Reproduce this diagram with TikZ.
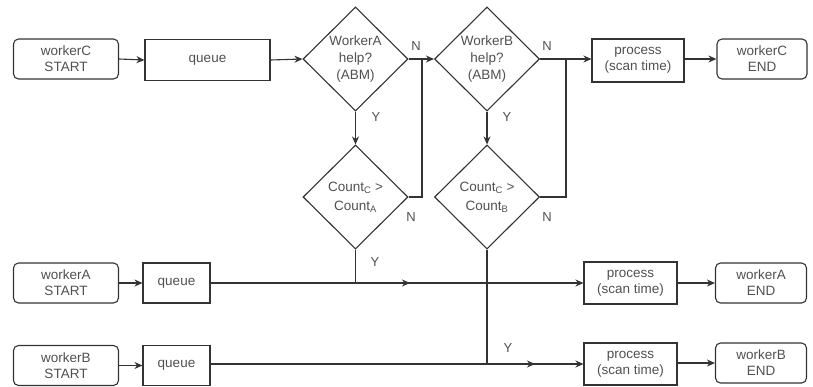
\documentclass[tikz,border=0pt]{standalone}
\usepackage{fontspec}
\setmainfont{Liberation Sans}
\usetikzlibrary{shapes.geometric,arrows.meta}
\definecolor{ln}{HTML}{333333}
\definecolor{tx}{HTML}{505050}
\tikzset{
  every node/.style={font=\fontsize{13.5}{16}\selectfont, text=tx, align=center},
  rbox/.style={draw=ln, line width=1.1pt, rounded corners=5pt, minimum width=105pt, minimum height=40pt, inner sep=1pt},
  sbox/.style={draw=ln, line width=1.1pt, minimum height=41pt, inner sep=1pt},
  dec/.style={draw=ln, line width=1.1pt, diamond, aspect=1, minimum width=105pt, minimum height=104pt, inner sep=0pt},
  conn/.style={draw=ln, line width=1.1pt},
  arr/.style={conn, -{Stealth[length=8pt,width=7pt]}},
  lbl/.style={font=\fontsize{13}{14}\selectfont, text=tx}
}
\begin{document}
\begin{tikzpicture}[x=1pt,y=-1pt]
\useasboundingbox (0,0) rectangle (813,386);
% top row
\node[rbox] (wCs) at (66,59) {workerC\\START};
\node[sbox, minimum width=125pt] (q1) at (207.5,60) {queue};
\node[dec] (dA) at (355.5,59) {WorkerA\\[1pt]help?\\[1pt](ABM)};
\node[dec] (dB) at (487,59) {WorkerB\\[1pt]help?\\[1pt](ABM)};
\node[sbox, minimum width=92pt, minimum height=43pt] (pC) at (638,60.5) {process\\(scan time)};
\node[rbox, minimum width=90pt] (wCe) at (762,59) {workerC\\END};
% count diamonds
\node[dec] (cA) at (355.5,197) {Count$_{\mathrm{C}}$ >\\[3pt]Count$_{\mathrm{A}}$};
\node[dec] (cB) at (487,197) {Count$_{\mathrm{C}}$ >\\[3pt]Count$_{\mathrm{B}}$};
% worker A row
\node[rbox] (wAs) at (66,283) {workerA\\START};
\node[sbox, minimum width=67pt, minimum height=40pt] (qA) at (176.5,283) {queue};
\node[sbox, minimum width=93pt, minimum height=42pt] (pA) at (630.5,283) {process\\(scan time)};
\node[rbox, minimum width=91pt] (wAe) at (761,283) {workerA\\END};
% worker B row
\node[rbox] (wBs) at (66,365.5) {workerB\\START};
\node[sbox, minimum width=67pt, minimum height=40pt] (qB) at (176.5,365.5) {queue};
\node[sbox, minimum width=93pt, minimum height=42pt] (pB) at (630.5,364) {process\\(scan time)};
\node[rbox, minimum width=91pt] (wBe) at (761,363) {workerB\\END};
% junction coordinates
\coordinate (jA) at (422,59);
\coordinate (jB) at (566,59);
\coordinate (eA) at (410,283);
\coordinate (eB) at (535,364);
% connectors
\draw[arr] (wCs.east) -- (q1.west);
\draw[arr] (q1.east) -- (dA.west);
\draw[arr] (dA.east) -- (dB.west);
\draw[arr] (dB.east) -- (pC.west |- dB.east);
\draw[arr] (pC.east |- wCe.west) -- (wCe.west);
\draw[conn] (cA.east) -| (jA);
\draw[conn] (cB.east) -| (jB);
\draw[arr] (dA.south) -- (cA.north);
\draw[arr] (dB.south) -- (cB.north);
\draw[arr] (wAs.east) -- (qA.west);
\draw[arr] (qA.east) -- (pA.west);
\draw[arr] (pA.east) -- (wAe.west);
\draw[arr] (wBs.east) -- (qB.west);
\draw[arr] (qB.east |- pB.west) -- (pB.west);
\draw[arr] (pB.east |- wBe.west) -- (wBe.west);
\draw[arr] (cA.south) |- (eA);
\draw[arr] (cB.south) |- (eB);
% labels
\node[lbl] (nA) at (416,46) {N};
\node[lbl] (nB) at (547,46) {N};
\node[lbl] (yA) at (376,117) {Y};
\node[lbl] (yB) at (507,117) {Y};
\node[lbl] (ncA) at (411,217) {N};
\node[lbl] (ncB) at (547,217) {N};
\node[lbl] (ycA) at (375,262) {Y};
\node[lbl] (ycB) at (508,348) {Y};
\end{tikzpicture}
\end{document}
